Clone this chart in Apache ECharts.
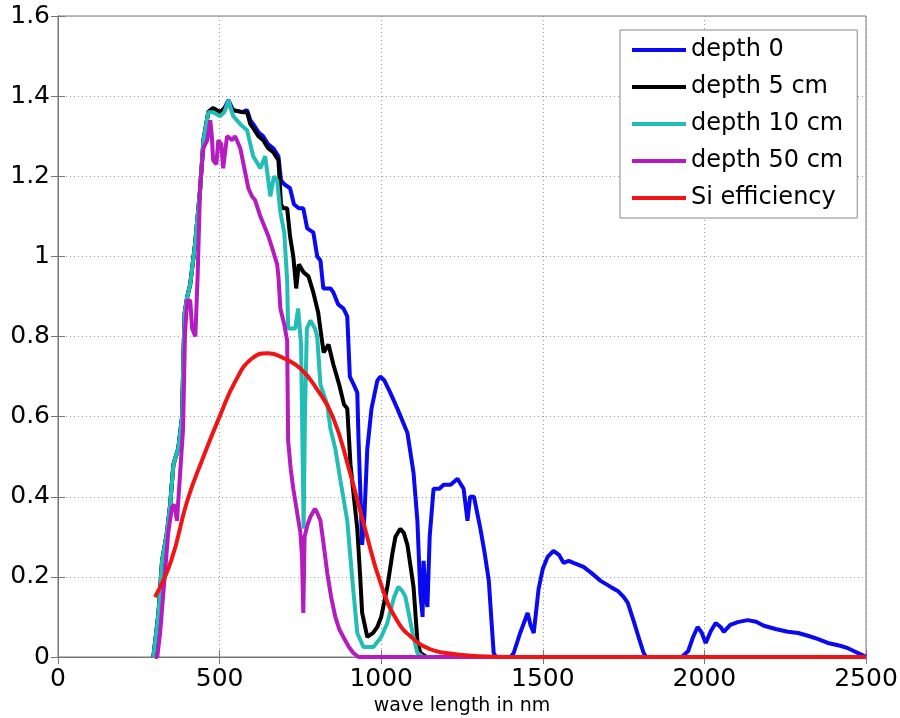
<!DOCTYPE html>
<html>
<head>
<meta charset="utf-8">
<title>spectrum vs depth</title>
<script src="https://cdn.jsdelivr.net/npm/echarts@6/dist/echarts.min.js"></script>
<style>
  html, body { margin: 0; padding: 0; background: #fff; }
  #main { width: 900px; height: 718px; }
</style>
</head>
<body>
<div id="main"></div>
<script>
// wavelength (nm) and value pairs
var wlBlue = [295, 311, 322, 337, 347, 357, 372, 384, 388, 392, 400, 409, 424, 440, 450, 465, 480, 502, 515, 527, 542, 570, 585, 595, 604, 620, 635, 650, 666, 682, 690, 700, 718, 730, 745, 759, 771, 790, 802, 812, 821, 843, 852, 867, 883, 895, 903, 915, 926, 930, 936, 941, 948, 957, 970, 988, 997, 1010, 1028, 1050, 1081, 1100, 1112, 1121, 1128, 1131, 1138, 1143, 1150, 1162, 1180, 1193, 1215, 1236, 1255, 1267, 1275, 1287, 1307, 1320, 1333, 1342, 1348, 1355, 1400, 1410, 1430, 1453, 1462, 1472, 1487, 1500, 1515, 1533, 1550, 1564, 1580, 1595, 1626, 1650, 1679, 1710, 1732, 1750, 1763, 1781, 1800, 1812, 1820, 1930, 1950, 1965, 1979, 1992, 2004, 2020, 2035, 2050, 2060, 2080, 2103, 2134, 2160, 2184, 2220, 2258, 2290, 2320, 2350, 2382, 2420, 2444, 2470, 2490, 2500];
var depth0 = [0, 0.11, 0.24, 0.31, 0.38, 0.48, 0.52, 0.60, 0.75, 0.86, 0.90, 0.93, 1.03, 1.17, 1.29, 1.36, 1.37, 1.36, 1.37, 1.39, 1.365, 1.36, 1.365, 1.34, 1.33, 1.31, 1.30, 1.28, 1.27, 1.25, 1.19, 1.18, 1.17, 1.13, 1.12, 1.12, 1.07, 1.06, 1.00, 0.99, 0.92, 0.92, 0.91, 0.88, 0.87, 0.85, 0.70, 0.68, 0.66, 0.54, 0.40, 0.28, 0.35, 0.52, 0.62, 0.69, 0.70, 0.69, 0.66, 0.62, 0.56, 0.46, 0.34, 0.16, 0.10, 0.24, 0.15, 0.125, 0.30, 0.42, 0.42, 0.43, 0.43, 0.445, 0.42, 0.34, 0.40, 0.40, 0.32, 0.26, 0.19, 0.08, 0.01, 0, 0, 0.01, 0.06, 0.11, 0.08, 0.06, 0.17, 0.22, 0.25, 0.265, 0.255, 0.235, 0.24, 0.235, 0.225, 0.21, 0.19, 0.175, 0.165, 0.15, 0.135, 0.09, 0.04, 0.01, 0, 0, 0.015, 0.05, 0.075, 0.06, 0.035, 0.065, 0.085, 0.075, 0.063, 0.08, 0.087, 0.092, 0.088, 0.078, 0.07, 0.063, 0.06, 0.053, 0.045, 0.035, 0.028, 0.022, 0.012, 0.004, 0];

var wlBlack = [295, 311, 322, 337, 347, 357, 372, 384, 388, 392, 400, 409, 424, 440, 450, 465, 480, 502, 515, 527, 542, 570, 585, 595, 604, 620, 635, 650, 666, 682, 690, 697, 709, 718, 728, 737, 745, 760, 775, 790, 805, 815, 822, 837, 852, 870, 885, 895, 905, 918, 926, 935, 941, 957, 975, 988, 1000, 1019, 1035, 1044, 1059, 1070, 1081, 1092, 1100, 1112, 1121, 1140, 2500];
var depth5 = [0, 0.11, 0.24, 0.31, 0.38, 0.48, 0.52, 0.60, 0.75, 0.86, 0.90, 0.93, 1.03, 1.17, 1.29, 1.36, 1.37, 1.36, 1.37, 1.38, 1.365, 1.36, 1.36, 1.33, 1.32, 1.30, 1.29, 1.27, 1.26, 1.24, 1.13, 1.12, 1.12, 1.05, 1.00, 0.92, 0.98, 0.96, 0.95, 0.91, 0.86, 0.80, 0.76, 0.78, 0.73, 0.68, 0.63, 0.62, 0.48, 0.38, 0.32, 0.20, 0.11, 0.05, 0.06, 0.075, 0.10, 0.175, 0.26, 0.30, 0.32, 0.31, 0.28, 0.22, 0.175, 0.04, 0.01, 0, 0];

var wlCyan = [295, 311, 322, 337, 347, 357, 372, 384, 388, 392, 400, 409, 424, 440, 450, 465, 480, 502, 515, 527, 542, 564, 585, 604, 626, 641, 657, 668, 678, 688, 700, 709, 712, 734, 743, 752, 757, 760, 764, 770, 781, 795, 802, 812, 833, 843, 858, 874, 895, 911, 926, 945, 976, 1000, 1019, 1040, 1053, 1065, 1075, 1097, 1112, 1130, 2500];
var depth10 = [0, 0.11, 0.24, 0.31, 0.38, 0.48, 0.52, 0.60, 0.75, 0.86, 0.90, 0.93, 1.03, 1.17, 1.29, 1.36, 1.36, 1.35, 1.36, 1.39, 1.35, 1.33, 1.315, 1.25, 1.22, 1.25, 1.15, 1.20, 1.19, 1.11, 1.06, 0.94, 0.82, 0.82, 0.87, 0.78, 0.50, 0.32, 0.60, 0.82, 0.84, 0.82, 0.80, 0.68, 0.63, 0.57, 0.52, 0.44, 0.34, 0.19, 0.06, 0.025, 0.025, 0.05, 0.085, 0.15, 0.175, 0.165, 0.15, 0.06, 0.01, 0, 0];

var wlMagenta = [300, 307, 316, 331, 341, 353, 360, 368, 378, 387, 393, 400, 409, 415, 425, 432, 440, 450, 462, 471, 476, 480, 490, 496, 505, 511, 517, 523, 539, 548, 564, 579, 589, 600, 610, 626, 641, 651, 663, 678, 682, 688, 700, 709, 712, 720, 728, 740, 750, 755, 759, 763, 772, 781, 795, 802, 812, 822, 833, 845, 858, 870, 883, 900, 914, 930, 2500];
var depth50 = [0, 0, 0.06, 0.21, 0.31, 0.375, 0.38, 0.34, 0.46, 0.57, 0.81, 0.89, 0.89, 0.82, 0.80, 0.95, 1.18, 1.27, 1.29, 1.34, 1.30, 1.24, 1.23, 1.29, 1.28, 1.22, 1.22, 1.30, 1.29, 1.30, 1.27, 1.21, 1.17, 1.15, 1.14, 1.10, 1.07, 1.05, 1.02, 0.98, 0.95, 0.87, 0.83, 0.79, 0.54, 0.47, 0.42, 0.36, 0.31, 0.25, 0.11, 0.30, 0.33, 0.35, 0.37, 0.36, 0.34, 0.28, 0.21, 0.15, 0.10, 0.07, 0.05, 0.025, 0.01, 0, 0];

var wlSi = [300, 350, 400, 450, 500, 550, 600, 650, 700, 750, 800, 850, 900, 950, 1000, 1050, 1100, 1150, 1200, 1300, 1400, 2500];
var siEff = [0.15, 0.24, 0.39, 0.50, 0.60, 0.69, 0.745, 0.758, 0.745, 0.72, 0.67, 0.60, 0.47, 0.32, 0.18, 0.09, 0.045, 0.02, 0.01, 0.002, 0, 0];

var seriesNames = ['depth 0', 'depth 5 cm', 'depth 10 cm', 'depth 50 cm', 'Si efficiency'];
var seriesColors = ['#0a0af2', '#000000', '#22bdb5', '#b41cc0', '#f01414'];

function pairs(xs, ys) {
    var out = [];
    for (var i = 0; i < xs.length; i++) out.push([xs[i], ys[i]]);
    return out;
}

var allData = [
    pairs(wlBlue, depth0),
    pairs(wlBlack, depth5),
    pairs(wlCyan, depth10),
    pairs(wlMagenta, depth50),
    pairs(wlSi, siEff)
];

var myChart = echarts.init(document.getElementById('main'));
var font = 'DejaVu Sans';
var gridLine = { show: true, lineStyle: { color: '#9a9a9a', type: [1, 3], width: 1 } };

var series = [];
for (var i = 0; i < seriesNames.length; i++) {
    series.push({
        name: seriesNames[i],
        type: 'line',
        symbol: 'none',
        smooth: i === 4,
        data: allData[i],
        itemStyle: { color: seriesColors[i] },
        lineStyle: { color: seriesColors[i], width: 4 },
        z: 2 + i
    });
}

var option = {
    animation: false,
    backgroundColor: '#fff',
    grid: {
        left: 58, right: 34, top: 16, bottom: 61,
        outerBoundsMode: 'none',
        show: true, borderColor: '#777', borderWidth: 1
    },
    legend: {
        orient: 'vertical',
        left: 620,
        top: 30,
        icon: 'rect',
        itemWidth: 54,
        itemHeight: 4,
        itemGap: 13,
        padding: [8, 14, 8, 12],
        borderColor: '#888',
        borderWidth: 1,
        backgroundColor: '#fff',
        textStyle: { fontFamily: font, fontSize: 24, color: '#000' },
        data: seriesNames
    },
    xAxis: [{
        type: 'value',
        min: 0, max: 2500, interval: 500,
        name: 'wave length in nm',
        nameLocation: 'middle',
        nameGap: 36,
        nameTextStyle: { fontFamily: font, fontSize: 19, color: '#000' },
        axisLine: { lineStyle: { color: '#777' } },
        axisTick: { inside: true, length: 7, lineStyle: { color: '#777' } },
        axisLabel: {
            fontFamily: font, fontSize: 25, color: '#000', margin: 10,
            formatter: function (v) { return String(v); }
        },
        splitLine: gridLine
    }, {
        type: 'value', position: 'top',
        min: 0, max: 2500, interval: 500,
        axisLine: { lineStyle: { color: '#777' } },
        axisTick: { inside: true, length: 7, lineStyle: { color: '#777' } },
        axisLabel: { show: false },
        splitLine: { show: false }
    }],
    yAxis: [{
        type: 'value',
        min: 0, max: 1.6, interval: 0.2,
        axisLine: { show: true, lineStyle: { color: '#777' } },
        axisTick: { show: true, inside: true, length: 7, lineStyle: { color: '#777' } },
        axisLabel: { fontFamily: font, fontSize: 25, color: '#000', margin: 8 },
        splitLine: gridLine
    }, {
        type: 'value', position: 'right',
        min: 0, max: 1.6, interval: 0.2,
        axisLine: { show: true, lineStyle: { color: '#777' } },
        axisTick: { show: true, inside: true, length: 7, lineStyle: { color: '#777' } },
        axisLabel: { show: false },
        splitLine: { show: false }
    }],
    series: series
};

option && myChart.setOption(option);
</script>
</body>
</html>
